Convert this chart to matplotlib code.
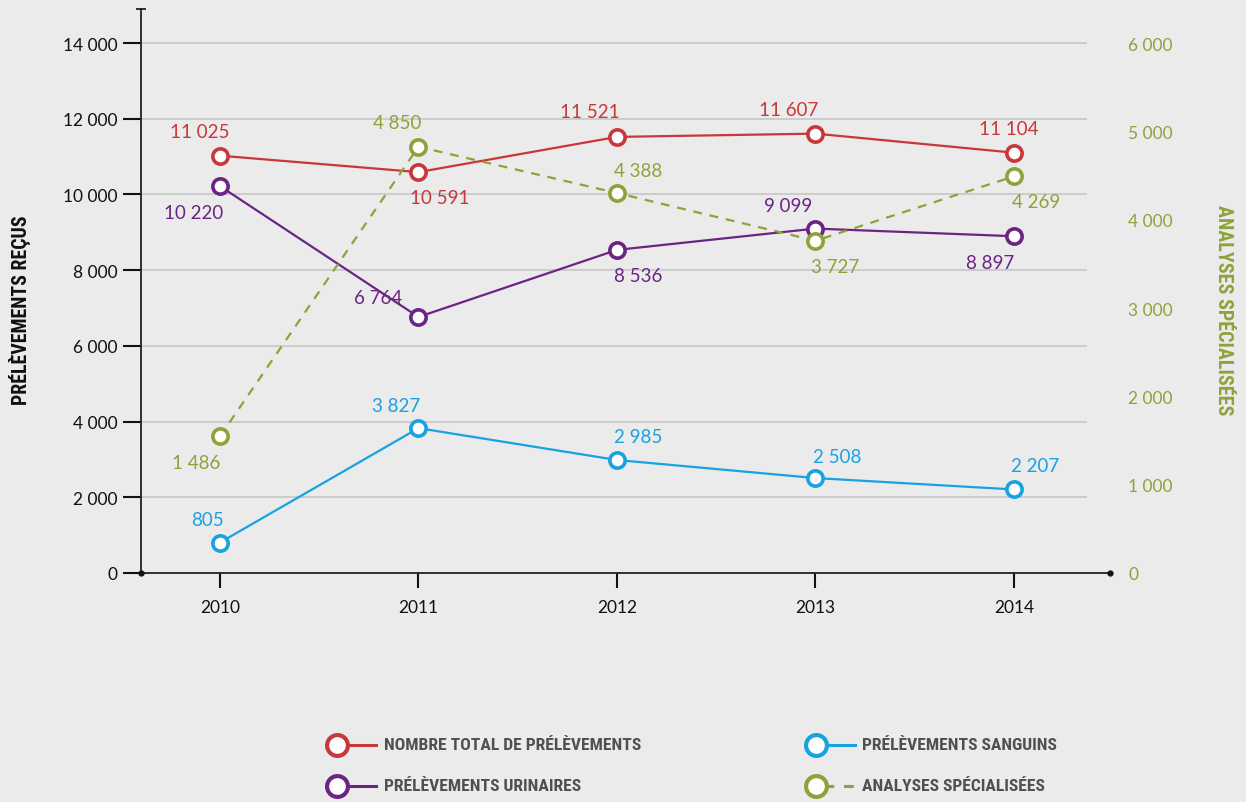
import matplotlib
matplotlib.use("Agg")
import matplotlib.pyplot as plt
from matplotlib.lines import Line2D

years = ["2010", "2011", "2012", "2013", "2014"]
total = [11025, 10591, 11521, 11607, 11104]
sanguins = [805, 3827, 2985, 2508, 2207]
urinaires = [10220, 6764, 8536, 9099, 8897]
# specialised analyses: printed values, and the heights at which the markers are drawn in the picture
analyses = [1486, 4850, 4388, 3727, 4269]
analyses_drawn = [1548, 4826, 4302, 3762, 4491]

left_ticks = [0, 2000, 4000, 6000, 8000, 10000, 12000, 14000]
right_ticks = [0, 1000, 2000, 3000, 4000, 5000, 6000]

# label offsets in pixels (dx, dy with dy positive downward)
off_total = [(-20, -24), (21, 25), (-27, -25), (-27, -24), (-5, -24)]
off_uri = [(-26, 26), (-40, -19), (21, 26), (-27, -23), (-24, 26)]
off_sang = [(-12, -23), (-22, -23), (21, -24), (22, -22), (21, -24)]
off_ana = [(-24, 26), (-21, -24), (21, -23), (20, 26), (22, 25)]

RED = "#C8373A"
BLUE = "#18A2E0"
PURPLE = "#6A2483"
GREEN = "#8DA33A"
BG = "#EBEBEB"
GRID = "#C9C9C9"

NUMFONT = ["Lato", "DejaVu Sans"]
CONDFONT = ["Roboto Condensed", "Liberation Sans Narrow", "DejaVu Sans Condensed", "Roboto", "DejaVu Sans"]

def fmt(v):
    return f"{v:,}".replace(",", " ")

W, H = 1246, 803
fig = plt.figure(figsize=(W / 100, H / 100), dpi=100, facecolor=BG)
ax = fig.add_axes([141 / W, 1 - 574 / H, (1110 - 141) / W, (574 - 10) / H])
ax.set_facecolor(BG)
ax2 = ax.twinx()

x = list(range(len(years)))
ax.set_xlim(-0.398, 4.484)
ymax = 14900
ax.set_ylim(0, ymax)
ax2.set_ylim(0, ymax * 6000 / 14000)

ax.hlines(left_ticks[1:], -0.398, 4.368, color=GRID, lw=1.3, zorder=0)

mk = dict(marker="o", markersize=11, markerfacecolor="white", markeredgewidth=2.6, lw=1.6)
ax.plot(x, total, color=RED, zorder=3, **mk)
ax.plot(x, urinaires, color=PURPLE, zorder=3, **mk)
ax.plot(x, sanguins, color=BLUE, zorder=3, **mk)
ax2.plot(x, analyses_drawn, color=GREEN, ls=(0, (4, 3.5)), zorder=3, **mk)

def labels(a, vals, ys, offs, color):
    for xi, v, yv, (dx, dy) in zip(x, vals, ys, offs):
        a.annotate(fmt(v), (xi, yv), xytext=(dx * 0.72, -dy * 0.72), textcoords="offset points",
                   ha="center", va="center", color=color, fontsize=13.5,
                   family=NUMFONT, fontweight="normal")

labels(ax, total, total, off_total, RED)
labels(ax, urinaires, urinaires, off_uri, PURPLE)
labels(ax, sanguins, sanguins, off_sang, BLUE)
labels(ax2, analyses, analyses_drawn, off_ana, GREEN)

# axes styling
for s in ["top", "right"]:
    ax.spines[s].set_visible(False)
for s in ax2.spines.values():
    s.set_visible(False)
ax.spines["left"].set_linewidth(1.3)
ax.spines["bottom"].set_linewidth(1.3)
ax.spines["left"].set_color("#222222")
ax.spines["bottom"].set_color("#222222")

ax.set_xticks(x)
ax.set_xticklabels(years, family=NUMFONT, fontsize=12.5)
ax.set_yticks(left_ticks)
ax.set_yticklabels([fmt(v) for v in left_ticks], family=NUMFONT, fontsize=12.5)
ax.tick_params(axis="y", length=13, width=1.5, pad=4, colors="#111111")
ax.tick_params(axis="x", length=11, width=1.5, pad=8, colors="#111111")

ax2.set_yticks(right_ticks)
ax2.set_yticklabels([fmt(v) for v in right_ticks], family=NUMFONT, fontsize=12.5, color=GREEN)
ax2.tick_params(axis="y", length=0, pad=13)

# axis end decorations
ax.plot([0, 1], [0, 0], transform=ax.transAxes, ls="none", marker="o", markersize=3.5,
        color="#111111", clip_on=False, zorder=5)
ax.plot([0], [1], transform=ax.transAxes, marker="_", markersize=7, markeredgewidth=1.3,
        color="#222222", clip_on=False)

fig.text(20 / W, 1 - 310 / H, "PRÉLÈVEMENTS REÇUS", rotation=90, ha="center", va="center",
         fontsize=14.3, fontweight="bold", family=CONDFONT, color="#111111")
fig.text(1223 / W, 1 - 310 / H, "ANALYSES SPÉCIALISÉES", rotation=-90, ha="center", va="center",
         fontsize=14.5, fontweight="bold", family=CONDFONT, color=GREEN)

# legend
leg_items = [
    ("NOMBRE TOTAL DE PRÉLÈVEMENTS", RED, "-", 337, 746, 384),
    ("PRÉLÈVEMENTS SANGUINS", BLUE, "-", 816, 746, 862),
    ("PRÉLÈVEMENTS URINAIRES", PURPLE, "-", 337, 787, 384),
    ("ANALYSES SPÉCIALISÉES", GREEN, "--", 816, 787, 862),
]
for label, c, ls, mx, my, tx in leg_items:
    fy = 1 - my / H
    if ls == "-":
        fig.add_artist(Line2D([(mx + 8) / W, (mx + 39) / W], [fy, fy], color=c, lw=2.2,
                              transform=fig.transFigure))
    else:
        fig.add_artist(Line2D([(mx + 8) / W, (mx + 39) / W], [fy, fy], color=c, lw=2.2,
                              ls=(0, (3.2, 3.2)), transform=fig.transFigure))
    fig.add_artist(Line2D([mx / W], [fy], marker="o", markersize=15, markerfacecolor="white",
                          markeredgecolor=c, markeredgewidth=3, transform=fig.transFigure))
    fig.text(tx / W, fy, label, ha="left", va="center", fontsize=12.6, fontweight="bold",
             family=CONDFONT, color="#505050")

fig.savefig("out.png", dpi=100, facecolor=BG)
